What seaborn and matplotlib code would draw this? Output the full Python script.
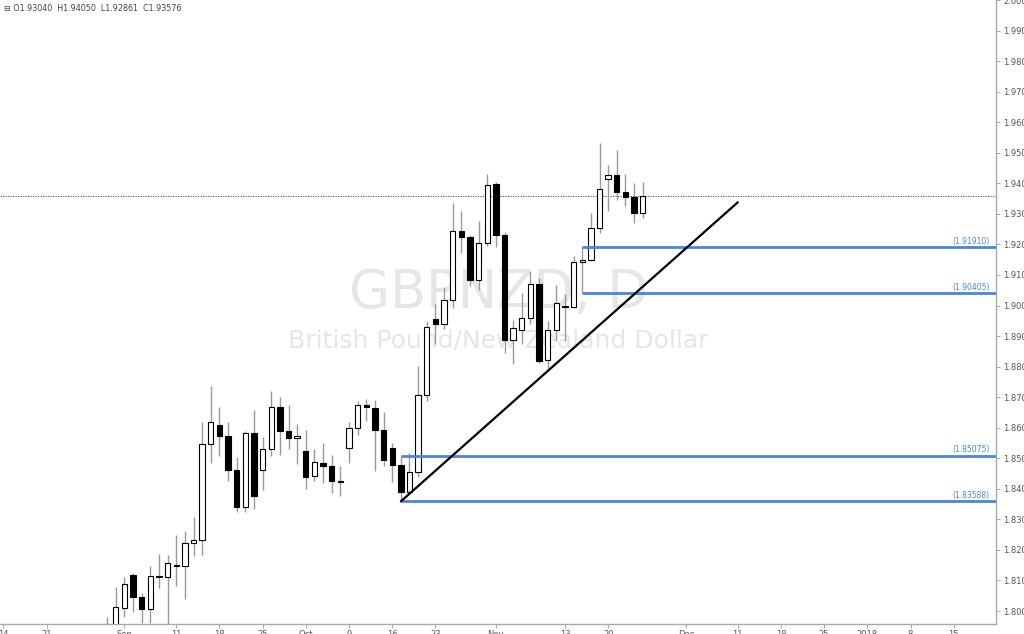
import numpy as np
import pandas as pd
import matplotlib
matplotlib.use("Agg")
import matplotlib.pyplot as plt
import seaborn as sns

# daily GBPNZD candles
dates = ["2017-08-30", "2017-08-31", "2017-09-01", "2017-09-04", "2017-09-05", "2017-09-06",
         "2017-09-07", "2017-09-08", "2017-09-11", "2017-09-12", "2017-09-13", "2017-09-14",
         "2017-09-15", "2017-09-18", "2017-09-19", "2017-09-20", "2017-09-21", "2017-09-22",
         "2017-09-25", "2017-09-26", "2017-09-27", "2017-09-28", "2017-09-29", "2017-10-02",
         "2017-10-03", "2017-10-04", "2017-10-05", "2017-10-06", "2017-10-09", "2017-10-10",
         "2017-10-11", "2017-10-12", "2017-10-13", "2017-10-16", "2017-10-17", "2017-10-18",
         "2017-10-19", "2017-10-20", "2017-10-23", "2017-10-24", "2017-10-25", "2017-10-26",
         "2017-10-27", "2017-10-30", "2017-10-31", "2017-11-01", "2017-11-02", "2017-11-03",
         "2017-11-06", "2017-11-07", "2017-11-08", "2017-11-09", "2017-11-10", "2017-11-13",
         "2017-11-14", "2017-11-15", "2017-11-16", "2017-11-17", "2017-11-20", "2017-11-21",
         "2017-11-22", "2017-11-23", "2017-11-24"]
opens = [1.7920, 1.7950, 1.8011, 1.8117, 1.8045, 1.8008, 1.8116, 1.8113, 1.8152, 1.8147,
         1.8223, 1.8234, 1.8547, 1.8609, 1.8572, 1.8462, 1.8340, 1.8583, 1.8462, 1.8529,
         1.8669, 1.8588, 1.8565, 1.8525, 1.8441, 1.8486, 1.8476, 1.8427, 1.8533, 1.8598,
         1.8674, 1.8664, 1.8594, 1.8534, 1.8479, 1.8389, 1.8454, 1.8708, 1.8957, 1.8939,
         1.9017, 1.9245, 1.9223, 1.9085, 1.9205, 1.9397, 1.9230, 1.8886, 1.8919, 1.8960,
         1.9069, 1.8821, 1.8919, 1.8999, 1.8995, 1.9143, 1.9150, 1.9254, 1.9415, 1.9428,
         1.9370, 1.9354, 1.9304]
highs = [1.7981, 1.8079, 1.8112, 1.8125, 1.8058, 1.8148, 1.8188, 1.8183, 1.8250, 1.8262,
         1.8308, 1.8618, 1.8737, 1.8669, 1.8618, 1.8503, 1.8588, 1.8658, 1.8569, 1.8721,
         1.8701, 1.8675, 1.8612, 1.8593, 1.8529, 1.8549, 1.8512, 1.8474, 1.8618, 1.8688,
         1.8694, 1.8692, 1.8651, 1.8549, 1.8509, 1.8517, 1.8803, 1.8949, 1.9004, 1.9060,
         1.9335, 1.9308, 1.9232, 1.9278, 1.9430, 1.9404, 1.9241, 1.8952, 1.9042, 1.9113,
         1.9089, 1.8949, 1.9067, 1.9037, 1.9161, 1.9191, 1.9303, 1.9531, 1.9461, 1.9510,
         1.9430, 1.9401, 1.9405]
lows = [1.7900, 1.7930, 1.7981, 1.7996, 1.7960, 1.7960, 1.8076, 1.7950, 1.8082, 1.8038,
        1.8180, 1.8183, 1.8484, 1.8506, 1.8425, 1.8324, 1.8324, 1.8335, 1.8397, 1.8507,
        1.8512, 1.8529, 1.8482, 1.8398, 1.8425, 1.8419, 1.8386, 1.8375, 1.8485, 1.8577,
        1.8621, 1.8457, 1.8476, 1.8422, 1.8359, 1.8384, 1.8438, 1.8688, 1.8875, 1.8922,
        1.8993, 1.9172, 1.9064, 1.9050, 1.9194, 1.9191, 1.8846, 1.8810, 1.8875, 1.8939,
        1.8813, 1.8786, 1.8884, 1.8884, 1.8993, 1.9041, 1.9145, 1.9237, 1.9308, 1.9347,
        1.9325, 1.9270, 1.9286]
closes = [1.7958, 1.8012, 1.8087, 1.8045, 1.8008, 1.8115, 1.8112, 1.8156, 1.8147, 1.8224,
          1.8234, 1.8547, 1.8618, 1.8572, 1.8462, 1.8340, 1.8583, 1.8378, 1.8531, 1.8669,
          1.8588, 1.8567, 1.8574, 1.8440, 1.8487, 1.8476, 1.8425, 1.8422, 1.8598, 1.8674,
          1.8667, 1.8593, 1.8495, 1.8479, 1.8389, 1.8454, 1.8708, 1.8930, 1.8939, 1.9017,
          1.9245, 1.9224, 1.9085, 1.9205, 1.9395, 1.9230, 1.8886, 1.8928, 1.8960, 1.9069,
          1.8819, 1.8919, 1.9009, 1.8995, 1.9143, 1.9150, 1.9254, 1.9382, 1.9428, 1.9370,
          1.9354, 1.9303, 1.93576]

# drawn levels: (price, start date)
levels = [1.91910, 1.90405, 1.85075, 1.83588]
level_starts = ["2017-11-15", "2017-11-15", "2017-10-17", "2017-10-17"]
trend_dates = ["2017-10-17", "2017-12-11"]
trend_prices = [1.83588, 1.93377]

tick_dates = ["2017-08-14", "2017-08-21", "2017-09-01", "2017-09-11", "2017-09-18", "2017-09-25",
              "2017-10-02", "2017-10-09", "2017-10-16", "2017-10-23", "2017-11-01", "2017-11-13",
              "2017-11-20", "2017-12-01", "2017-12-11", "2017-12-18", "2017-12-25", "2018-01-01",
              "2018-01-08", "2018-01-15"]
tick_labels = ["14", "21", "Sep", "11", "18", "25", "Oct", "9", "16", "23", "Nov", "13", "20",
               "Dec", "11", "18", "25", "2018", "8", "15"]
price_ticks = [1.80, 1.81, 1.82, 1.83, 1.84, 1.85, 1.86, 1.87, 1.88, 1.89, 1.90,
               1.91, 1.92, 1.93, 1.94, 1.95, 1.96, 1.97, 1.98, 1.99, 2.00]

ORIGIN = "2017-08-14"


def bar_index(d):
    # trading-day position on the x axis (weekdays only)
    return np.busday_count(ORIGIN, d)


sns.set_theme(style="white")
plt.rcParams["font.family"] = ["DejaVu Sans"]

df = pd.DataFrame({"Date": dates, "Open": opens, "High": highs, "Low": lows, "Close": closes})
df["x"] = [bar_index(d) for d in df["Date"]]
df["up"] = df["Close"] >= df["Open"]

fig = plt.figure(figsize=(10.24, 6.34), dpi=100)
ax = fig.add_axes([0.0, 0.0158, 0.9727, 0.9842])

# watermark
ax.text(0.5, 0.53, "GBPNZD, D", transform=ax.transAxes, ha="center", va="center",
        fontsize=38, color="#e6e6e6", zorder=0)
ax.text(0.5, 0.455, "British Pound/New Zealand Dollar", transform=ax.transAxes,
        ha="center", va="center", fontsize=18, color="#e6e6e6", zorder=0)

# wicks
ax.vlines(df["x"], df["Low"], df["High"], color="#999999", linewidth=1.0, zorder=2)

# bodies
body_bottom = np.minimum(df["Open"], df["Close"])
body_h = np.maximum(np.abs(df["Close"] - df["Open"]), 0.0003)
ax.bar(df["x"], body_h, bottom=body_bottom, width=0.62,
       color=np.where(df["up"], "white", "black"), edgecolor="black",
       linewidth=0.8, zorder=3)

# horizontal levels
x_right = 114.9
blue = "#4a84e0"
for lvl, start in zip(levels, level_starts):
    ax.hlines(lvl, bar_index(start), x_right, color=blue, linewidth=2.0, zorder=4)
    ax.text(114.2, lvl + 0.0005, f"({lvl:.5f})", ha="right", va="bottom",
            fontsize=5.5, color=blue, zorder=5)

# trend line
trend = pd.DataFrame({"x": [bar_index(d) for d in trend_dates], "y": trend_prices})
sns.lineplot(data=trend, x="x", y="y", color="black", linewidth=1.6, ax=ax, zorder=4)

# last close
ax.axhline(closes[-1], color="#333333", linestyle=(0, (1.5, 1.5)), linewidth=0.6, zorder=1)

ax.set_xlim(-0.4, x_right)
ax.set_ylim(1.79576, 1.99935)

ax.yaxis.tick_right()
ax.set_yticks(price_ticks)
ax.set_yticklabels([f"{p:.5f}" for p in price_ticks])
ax.set_xticks([bar_index(d) for d in tick_dates])
ax.set_xticklabels(tick_labels)
ax.tick_params(axis="y", right=True, length=3, width=0.6, color="#999999",
               labelsize=6, labelcolor="#555555", pad=2)
ax.tick_params(axis="x", bottom=True, length=3, width=0.6, color="#999999",
               labelsize=6, labelcolor="#555555", pad=1)
ax.set_xlabel("")
ax.set_ylabel("")
for side in ["left", "top"]:
    ax.spines[side].set_visible(False)
for side in ["right", "bottom"]:
    ax.spines[side].set_color("#aaaaaa")
    ax.spines[side].set_linewidth(1.0)

# OHLC header
fig.text(0.004, 0.986, "\u229f O1.93040  H1.94050  L1.92861  C1.93576",
         ha="left", va="center", fontsize=5.8, color="#444444")

fig.savefig("out.png", dpi=100)
